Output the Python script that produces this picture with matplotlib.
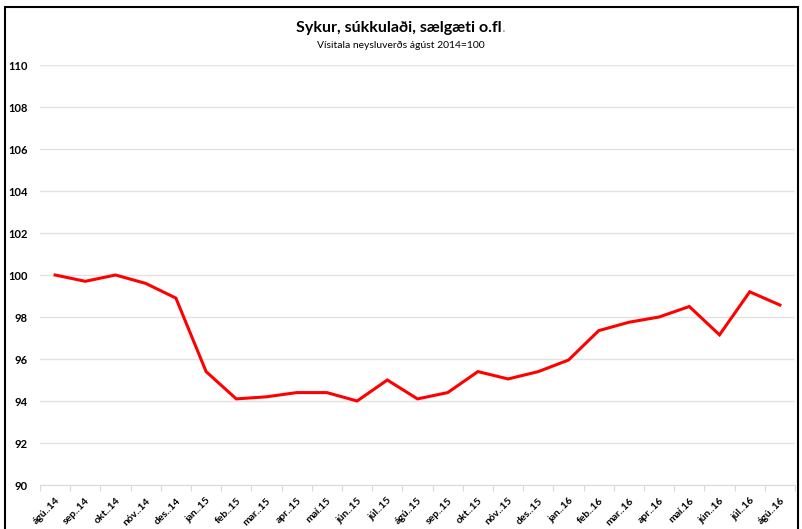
import matplotlib.pyplot as plt
from matplotlib.patches import Rectangle

# Gögn - vísitala neysluverðs, sykur og sælgæti
months = ["ágú..14", "sep..14", "okt..14", "nóv..14", "des..14",
          "jan..15", "feb..15", "mar..15", "apr..15", "maí.15", "jún..15", "júl..15",
          "ágú..15", "sep..15", "okt..15", "nóv..15", "des..15",
          "jan..16", "feb..16", "mar..16", "apr..16", "maí.16", "jún..16", "júl..16", "ágú..16"]
index_values = [100.0, 99.7, 100.0, 99.6, 98.9,
                95.4, 94.1, 94.2, 94.4, 94.4, 94.0, 95.0,
                94.1, 94.4, 95.4, 95.05, 95.4,
                95.95, 97.35, 97.75, 98.0, 98.5, 97.15, 99.2, 98.57]
y_ticks = [90, 92, 94, 96, 98, 100, 102, 104, 106, 108, 110]

plt.rcParams['font.family'] = ['Lato', 'DejaVu Sans']

fig = plt.figure(figsize=(8.02, 5.29), dpi=100)
ax = fig.add_axes([40 / 802, 1 - 485 / 529, 755 / 802, 420 / 529])

x = list(range(len(months)))
ax.plot(x, index_values, color='#ff0000', linewidth=2.2, solid_joinstyle='miter')

ax.set_xlim(-0.5, len(months) - 0.5)
ax.set_ylim(90, 110)
ax.set_yticks(y_ticks)
ax.set_yticklabels([str(v) for v in y_ticks], fontsize=8, fontweight='bold')
ax.yaxis.grid(True, color='#e3e3e3', linewidth=1)
ax.set_axisbelow(True)
ax.tick_params(axis='y', length=0, pad=9)

# merki á milli flokka eins og í Excel
ax.set_xticks([i - 0.5 for i in range(len(months) + 1)])
ax.set_xticklabels([])
ax.set_xticks(x, minor=True)
ax.set_xticklabels(months, minor=True, rotation=45, ha='right',
                   rotation_mode='anchor', fontsize=7.5, fontweight='bold')
ax.tick_params(axis='x', which='major', length=4, color='#d9d9d9', direction='out')
ax.tick_params(axis='x', which='minor', length=0, pad=8)

for side in ['top', 'right', 'left']:
    ax.spines[side].set_visible(False)
ax.spines['bottom'].set_color('#d9d9d9')

# titill
fig.canvas.draw()
t = fig.text(0.497, 1 - 28 / 529, "Sykur, súkkulaði, sælgæti o.fl", ha='center', va='center',
             fontsize=11.5, fontweight='bold')
fig.canvas.draw()
bb = t.get_window_extent()
fig.text(bb.x1 / fig.bbox.width, 1 - 28 / 529, ".", ha='left', va='center',
         fontsize=11.5, color='#a0a0a0')
fig.text(0.5, 1 - 45 / 529, "Vísitala neysluverðs ágúst 2014=100", ha='center', va='center',
         fontsize=7.5)

# rammi utan um myndina
fig.patches.append(Rectangle((5 / 802, -0.05), 793 / 802, 1.05 - 7 / 529,
                             transform=fig.transFigure, fill=False,
                             edgecolor='black', linewidth=1.5))

fig.savefig("out.png", dpi=100)
